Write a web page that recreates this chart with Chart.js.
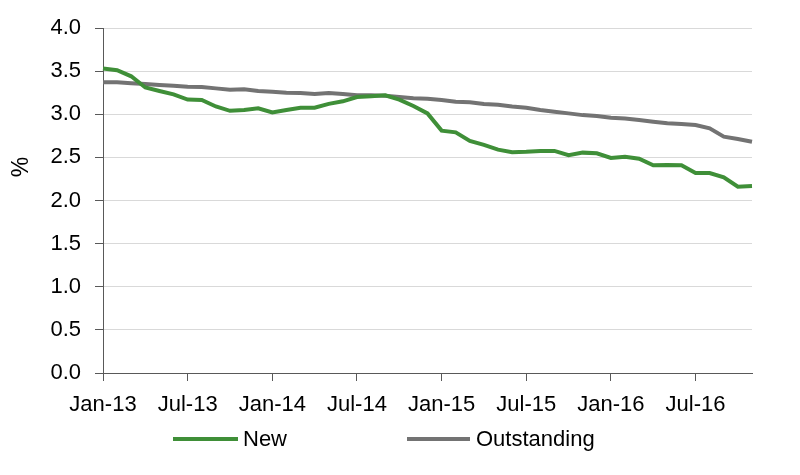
<!DOCTYPE html>
<html>
<head>
<meta charset="utf-8">
<script src="https://cdn.jsdelivr.net/npm/chart.js@4/dist/chart.umd.min.js"></script>
<style>
  body { margin: 0; background: #fff; }
  #wrap { position: relative; width: 800px; height: 475px; }
  #legend { position: absolute; left: 0; top: 0; width: 800px; height: 475px; pointer-events: none;
    font-family: "Liberation Sans", Arial, sans-serif; font-size: 22px; color: #000; }
  .sw { position: absolute; height: 4px; }
  .lb { position: absolute; line-height: 26px; }
</style>
</head>
<body>
<div id="wrap">
  <canvas id="chart" width="800" height="475"></canvas>
  <div id="legend">
    <span class="sw" style="left:173px;top:437px;width:65px;background:#3f8f38"></span>
    <span class="lb" style="left:243px;top:426px">New</span>
    <span class="sw" style="left:407px;top:437px;width:63px;background:#737373"></span>
    <span class="lb" style="left:476px;top:426px">Outstanding</span>
  </div>
</div>
<script>
var months = ["Jan-13","Feb-13","Mar-13","Apr-13","May-13","Jun-13","Jul-13","Aug-13","Sep-13","Oct-13","Nov-13","Dec-13",
  "Jan-14","Feb-14","Mar-14","Apr-14","May-14","Jun-14","Jul-14","Aug-14","Sep-14","Oct-14","Nov-14","Dec-14",
  "Jan-15","Feb-15","Mar-15","Apr-15","May-15","Jun-15","Jul-15","Aug-15","Sep-15","Oct-15","Nov-15","Dec-15",
  "Jan-16","Feb-16","Mar-16","Apr-16","May-16","Jun-16","Jul-16","Aug-16","Sep-16","Oct-16","Nov-16"];
var shownLabels = ["Jan-13","Jul-13","Jan-14","Jul-14","Jan-15","Jul-15","Jan-16","Jul-16"];
var newRates = [3.53,3.51,3.44,3.31,3.27,3.23,3.17,3.165,3.09,3.04,3.05,3.07,
  3.02,3.05,3.075,3.075,3.12,3.15,3.20,3.21,3.22,3.17,3.095,3.01,
  2.81,2.79,2.69,2.645,2.59,2.56,2.565,2.575,2.575,2.525,2.555,2.547,
  2.493,2.508,2.485,2.408,2.412,2.408,2.319,2.319,2.269,2.16,2.168];
var outstandingRates = [3.37,3.37,3.36,3.35,3.34,3.33,3.32,3.315,3.30,3.285,3.29,3.27,
  3.26,3.25,3.245,3.235,3.245,3.235,3.22,3.22,3.215,3.20,3.185,3.18,
  3.165,3.145,3.14,3.12,3.11,3.09,3.075,3.05,3.03,3.01,2.99,2.98,
  2.96,2.95,2.933,2.914,2.895,2.887,2.875,2.837,2.74,2.713,2.682];
var yMin = 0, yMax = 4, yStep = 0.5;

var font = "'Liberation Sans', Arial, sans-serif";

// y axis title drawn by hand so it can sit a bit above centre like the original
var yTitle = {
  id: "yTitle",
  afterDraw: function (chart) {
    var c = chart.ctx;
    c.save();
    c.translate(22, 167);
    c.rotate(-Math.PI / 2);
    c.font = "23px " + font;
    c.fillStyle = "#000";
    c.textAlign = "center";
    c.textBaseline = "middle";
    c.fillText("%", 0, 0);
    c.restore();
  }
};

new Chart(document.getElementById("chart"), {
  type: "line",
  data: {
    labels: months,
    datasets: [
      { label: "New", data: newRates, borderColor: "#3f8f38", borderWidth: 4, pointRadius: 0, tension: 0 },
      { label: "Outstanding", data: outstandingRates, borderColor: "#737373", borderWidth: 4, pointRadius: 0, tension: 0 }
    ]
  },
  options: {
    responsive: false,
    animation: false,
    layout: { padding: { top: 28, right: 48, bottom: 52, left: 0 } },
    plugins: { legend: { display: false }, tooltip: { enabled: false } },
    scales: {
      x: {
        offset: false,
        grid: {
          drawOnChartArea: false,
          tickLength: 8,
          tickColor: function (ctx) { return shownLabels.indexOf(months[ctx.index]) >= 0 ? "#595959" : "rgba(0,0,0,0)"; }
        },
        border: { color: "#595959", width: 1 },
        ticks: {
          autoSkip: false,
          maxRotation: 0,
          padding: 11,
          color: "#000",
          font: { family: font, size: 22 },
          callback: function (v, i) { return shownLabels.indexOf(months[i]) >= 0 ? months[i] : ""; }
        },
        afterFit: function (s) { s.height = 50; }
      },
      y: {
        min: yMin, max: yMax,
        grid: { color: "#d9d9d9", lineWidth: 1, tickLength: 8, tickColor: "#595959" },
        border: { color: "#595959", width: 1 },
        ticks: {
          stepSize: yStep,
          padding: 14,
          color: "#000",
          font: { family: font, size: 22 },
          callback: function (v) { return v.toFixed(1); }
        },
        afterFit: function (s) { s.width = 103; }
      }
    }
  },
  plugins: [yTitle]
});
</script>
</body>
</html>
